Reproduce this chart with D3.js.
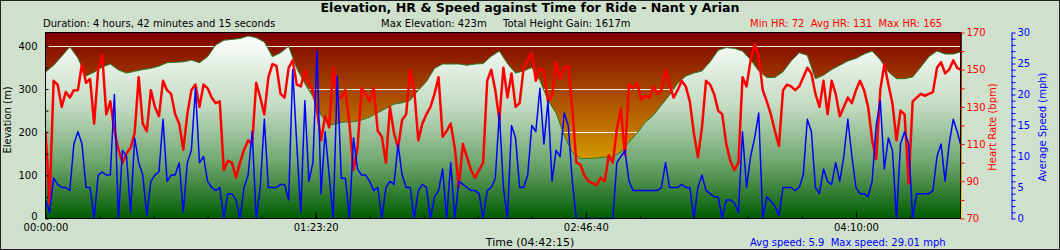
<!DOCTYPE html>
<html>
<head>
<meta charset="utf-8">
<script src="https://d3js.org/d3.v7.min.js"></script>
<style>
body { margin: 0; background: #cfe0cc; }
svg { display: block; font-family: "DejaVu Sans", Verdana, sans-serif; }
.pre { white-space: pre; }
</style>
</head>
<body>
<svg id="chart" width="1060" height="250"></svg>
<script>
// ride length in seconds (04:42:15)
var totalSeconds = 16935;

// elevation (m), one reading every 150 s
var elevStep = 150;
var elevation = [
  339, 355, 376, 398, 372, 330, 339, 351, 358, 344,
  337, 341, 345, 348, 353, 361, 362, 363, 367, 361,
  375, 402, 413, 415, 417, 423, 419, 409, 375, 384,
  399, 348, 313, 282, 239, 216, 220, 224, 224, 228,
  235, 245, 255, 265, 268, 274, 297, 317, 348, 358,
  358, 358, 355, 358, 359, 376, 388, 359, 337, 342,
  350, 320, 274, 244, 193, 153, 139, 139, 140, 142,
  144, 154, 177, 198, 223, 239, 263, 286, 313, 330,
  337, 342, 363, 390, 396, 394, 388, 368, 342, 327,
  327, 340, 365, 384, 378, 324, 332, 345, 355, 365,
  371, 381, 388, 368, 340, 324, 324, 328, 351, 375,
  388, 381, 381, 386
];

// heart rate (bpm) and speed (mph), one reading every 75 s
var sampleStep = 75;
var heartRate = [
  117, 78, 144, 142, 130, 138, 135, 139, 139, 153,
  143, 145, 121, 150, 158, 126, 133, 117, 107, 100,
  105, 108, 116, 146, 121, 117, 139, 130, 125, 144,
  139, 137, 126, 121, 107, 126, 139, 142, 130, 142,
  140, 135, 132, 133, 96, 101, 100, 92, 100, 107,
  112, 110, 143, 135, 126, 146, 153, 152, 137, 135,
  151, 155, 142, 141, 150, 142, 139, 128, 112, 125,
  119, 151, 135, 135, 139, 121, 96, 108, 140, 137,
  133, 140, 117, 114, 100, 130, 116, 108, 123, 126,
  150, 139, 112, 121, 126, 130, 137, 146, 114, 117,
  121, 108, 87, 110, 103, 96, 92, 96, 100, 144,
  150, 139, 123, 151, 135, 148, 130, 132, 151, 155,
  159, 144, 151, 149, 133, 136, 154, 145, 151, 152,
  129, 100, 99, 93, 90, 89, 88, 92, 90, 104,
  100, 118, 129, 104, 142, 140, 143, 134, 136, 135,
  141, 137, 139, 150, 142, 135, 139, 144, 141, 133,
  116, 103, 119, 144, 142, 137, 128, 126, 110, 101,
  96, 100, 146, 141, 155, 164, 157, 139, 133, 126,
  117, 109, 139, 142, 141, 139, 141, 146, 151, 148,
  137, 130, 144, 126, 144, 137, 125, 130, 135, 132,
  139, 144, 139, 130, 112, 102, 139, 153, 142, 132,
  112, 128, 126, 89, 133, 135, 137, 136, 137, 138,
  151, 154, 148, 150, 155, 151, 150
];
var speed = [
  3, 1, 6.5, 5.5, 5, 5, 4.5, 12, 14, 12,
  5, 5, 0, 7, 7.5, 7, 7, 20, 0, 11,
  10, 1, 13, 9, 7, 0.5, 6, 7, 7.5, 16,
  6, 7, 7, 9, 1, 9, 11, 21, 9, 10,
  6, 5, 4.5, 5, 0, 4, 4, 3, 0, 5,
  7, 14, 0, 5, 16, 5, 5, 5, 5.5, 5.5,
  3, 24, 12, 1, 19, 6, 9, 27, 4, 14,
  7, 0, 23, 6.5, 6.5, 0, 13, 8, 7, 7,
  6, 4.5, 5, 0, 5, 6, 5.5, 12, 7, 5,
  5, 0, 4.5, 5.5, 5, 0, 3.5, 4.5, 8, 0,
  9, 0, 6, 5.5, 5, 4.5, 4.5, 4, 0, 4.5,
  5, 6.5, 17, 5, 0, 15, 13, 5, 5, 7,
  15, 14, 21, 12, 19, 6, 11, 10, 17, 15,
  6, 0, 0, 0, 0, 0, 0, 0, 0, 0,
  0, 9, 10, 11, 6, 4.5, 4.5, 4.5, 4.5, 4.5,
  4.5, 4.5, 5, 9, 5, 5, 5, 5.5, 5, 5,
  0, 5, 7, 4.5, 4, 3.5, 3.5, 0, 3, 3,
  2.5, 1, 14, 5, 10, 13, 17, 0, 3.5, 2.8,
  2, 0.5, 5, 5, 5, 4.5, 5, 7, 16, 14,
  5, 4, 8, 6, 5.5, 9, 6, 10, 16, 10,
  5, 4, 4, 3.5, 6, 15, 19, 8, 13, 11,
  0, 12, 14, 12, 0, 4, 4, 4, 4, 4.5,
  10, 12, 6, 12, 16, 14, 12
];

// axis ticks
var elevTicks = d3.range(0, 401, 50);
var elevGrid = [100, 200, 300, 400];
var hrTicks = d3.range(70, 171, 10);
var speedTicks = d3.range(0, 31, 1);
var timeMinor = d3.range(0, totalSeconds, 1000);
var timeMajor = [0, 5000, 10000, 15000];

// summary texts
var title = "Elevation, HR & Speed against Time for Ride - Nant y Arian";
var durationText = "Duration: 4 hours, 42 minutes and 15 seconds";
var maxElevText = "Max Elevation: 423m";
var gainText = "Total Height Gain: 1617m";
var hrText = "Min HR: 72  Avg HR: 131  Max HR: 165";
var speedText = "Avg speed: 5.9  Max speed: 29.01 mph";
var timeTitle = "Time (04:42:15)";

var plot = {left: 45.5, right: 960.5, top: 32.5, bottom: 218.5};
var svg = d3.select("#chart");

var x = d3.scaleLinear().domain([0, totalSeconds]).range([plot.left, plot.right]),
    yElev = d3.scaleLinear().domain([0, 431]).range([plot.bottom, plot.top]),
    yHr = d3.scaleLinear().domain([70, 170]).range([plot.bottom, plot.top]),
    ySpeed = d3.scaleLinear().domain([0, 30]).range([plot.bottom, plot.top]);

function hms(s) {
  var h = Math.floor(s / 3600), m = Math.floor(s % 3600 / 60), sec = s % 60;
  return [h, m, sec].map(function (v) { return (v < 10 ? "0" : "") + v; }).join(":");
}

// outer frame
svg.append("rect").attr("x", 0.5).attr("y", 0.5).attr("width", 1059).attr("height", 249)
  .attr("fill", "#cfe0cc").attr("stroke", "#222");

var defs = svg.append("defs");
var sky = defs.append("linearGradient").attr("id", "sky").attr("x1", 0).attr("y1", 0).attr("x2", 0).attr("y2", 1);
sky.append("stop").attr("offset", "0%").attr("stop-color", "#800000");
sky.append("stop").attr("offset", "100%").attr("stop-color", "#f8e000");
var ground = defs.append("linearGradient").attr("id", "ground").attr("gradientUnits", "userSpaceOnUse")
  .attr("x1", 0).attr("y1", plot.top).attr("x2", 0).attr("y2", plot.bottom);
ground.append("stop").attr("offset", "0%").attr("stop-color", "#ffffff");
ground.append("stop").attr("offset", "40%").attr("stop-color", "#c2dbc2");
ground.append("stop").attr("offset", "70%").attr("stop-color", "#6ea66e");
ground.append("stop").attr("offset", "100%").attr("stop-color", "#005c00");
defs.append("clipPath").attr("id", "clip").append("rect")
  .attr("x", plot.left).attr("y", plot.top - 2)
  .attr("width", plot.right - plot.left + 1).attr("height", plot.bottom - plot.top + 3);

// plot background
svg.append("rect").attr("x", plot.left).attr("y", plot.top)
  .attr("width", plot.right - plot.left + 1.5).attr("height", plot.bottom - plot.top)
  .attr("fill", "url(#sky)");

svg.append("g").selectAll("line").data(elevGrid).enter().append("line")
  .attr("x1", plot.left).attr("x2", plot.right)
  .attr("y1", function (d) { return Math.round(yElev(d)) + 0.5; })
  .attr("y2", function (d) { return Math.round(yElev(d)) + 0.5; })
  .attr("stroke", "#f2f2f2");

var elevTime = function (d, i) { return x(Math.min(i * elevStep, totalSeconds)); };
var sampleTime = function (d, i) { return x(Math.min(i * sampleStep, totalSeconds)); };

svg.append("path").datum(elevation)
  .attr("d", d3.area().x(elevTime).y0(plot.bottom).y1(function (d) { return yElev(d); }))
  .attr("fill", "url(#ground)");
svg.append("path").datum(elevation)
  .attr("d", d3.line().x(elevTime).y(function (d) { return yElev(d); }))
  .attr("fill", "none").attr("stroke", "#2a7a2a").attr("stroke-width", 1);

var lines = svg.append("g").attr("clip-path", "url(#clip)");
lines.append("path").datum(heartRate)
  .attr("d", d3.line().x(sampleTime).y(function (d) { return yHr(d); }))
  .attr("fill", "none").attr("stroke", "#ff0000").attr("stroke-width", 2.5)
  .attr("stroke-linejoin", "round");
lines.append("path").datum(speed)
  .attr("d", d3.line().x(sampleTime).y(function (d) { return ySpeed(d); }))
  .attr("fill", "none").attr("stroke", "#0000ff").attr("stroke-width", 1.5)
  .attr("stroke-linejoin", "round");

// plot border
svg.append("rect").attr("x", plot.left).attr("y", plot.top)
  .attr("width", plot.right - plot.left).attr("height", plot.bottom - plot.top)
  .attr("fill", "none").attr("stroke", "#000");

function styleAxis(g, colour) {
  g.select(".domain").remove();
  g.selectAll("line").attr("stroke", colour);
  g.selectAll("text").attr("fill", colour).attr("font-size", 10)
    .attr("font-family", "DejaVu Sans, Verdana, sans-serif");
}

// elevation axis, ticks inside the plot
var eAxis = svg.append("g").attr("transform", "translate(" + plot.left + ",0)")
  .call(d3.axisLeft(yElev).tickValues(elevTicks).tickSize(-3).tickPadding(8)
    .tickFormat(function (d) { return d % 100 === 0 ? d : ""; }))
  .call(styleAxis, "#000");
// lift the "0" a little so it clears the first time label
eAxis.selectAll("text").filter(function (d) { return d === 0; }).attr("dy", "0.05em");

// time axis
svg.append("g").attr("transform", "translate(0," + plot.bottom + ")")
  .call(d3.axisBottom(x).tickValues(timeMinor).tickSize(-3).tickFormat(""))
  .call(styleAxis, "#000");
svg.append("g").attr("transform", "translate(0," + plot.bottom + ")")
  .call(d3.axisBottom(x).tickValues(timeMajor).tickSize(-6).tickPadding(5).tickFormat(hms))
  .call(styleAxis, "#000");

// heart rate axis
svg.append("g").attr("transform", "translate(" + plot.right + ",0)")
  .call(d3.axisRight(yHr).tickValues(hrTicks).tickSize(4).tickPadding(2)
    .tickFormat(function (d) { return (d - 70) % 20 === 0 ? d : ""; }))
  .call(styleAxis, "#ff0000");

// speed axis
var sAxis = svg.append("g").attr("transform", "translate(1011.5,0)")
  .call(d3.axisRight(ySpeed).tickValues(speedTicks).tickSize(4).tickPadding(2).tickSizeOuter(0)
    .tickFormat(function (d) { return d % 5 === 0 ? d : ""; }));
sAxis.selectAll("line").attr("stroke", "#0000ff");
sAxis.select(".domain").attr("stroke", "#0000ff");
sAxis.selectAll("text").attr("fill", "#0000ff").attr("font-size", 10)
  .attr("font-family", "DejaVu Sans, Verdana, sans-serif");

// titles
svg.append("text").attr("x", 530).attr("y", 12).attr("text-anchor", "middle")
  .attr("font-size", 12.6).attr("font-weight", "bold").text(title);

var info = svg.append("g").attr("font-size", 10);
info.append("text").attr("x", 43).attr("y", 27).text(durationText);
info.append("text").attr("x", 381).attr("y", 27).text(maxElevText);
info.append("text").attr("x", 503).attr("y", 27).text(gainText);
info.append("text").attr("class", "pre").attr("x", 750).attr("y", 27).attr("fill", "#ff0000").text(hrText);
info.append("text").attr("class", "pre").attr("x", 750).attr("y", 246).attr("fill", "#0000ff").text(speedText);
info.append("text").attr("x", 530).attr("y", 246).attr("text-anchor", "middle")
  .attr("font-size", 11).text(timeTitle);

info.append("text").attr("transform", "translate(11,120) rotate(-90)")
  .attr("text-anchor", "middle").text("Elevation (m)");
info.append("text").attr("transform", "translate(996,127) rotate(-90)")
  .attr("text-anchor", "middle").attr("fill", "#ff0000").text("Heart Rate (bpm)");
info.append("text").attr("transform", "translate(1046,127) rotate(-90)")
  .attr("text-anchor", "middle").attr("fill", "#0000ff").text("Average Speed (mph)");
</script>
</body>
</html>
